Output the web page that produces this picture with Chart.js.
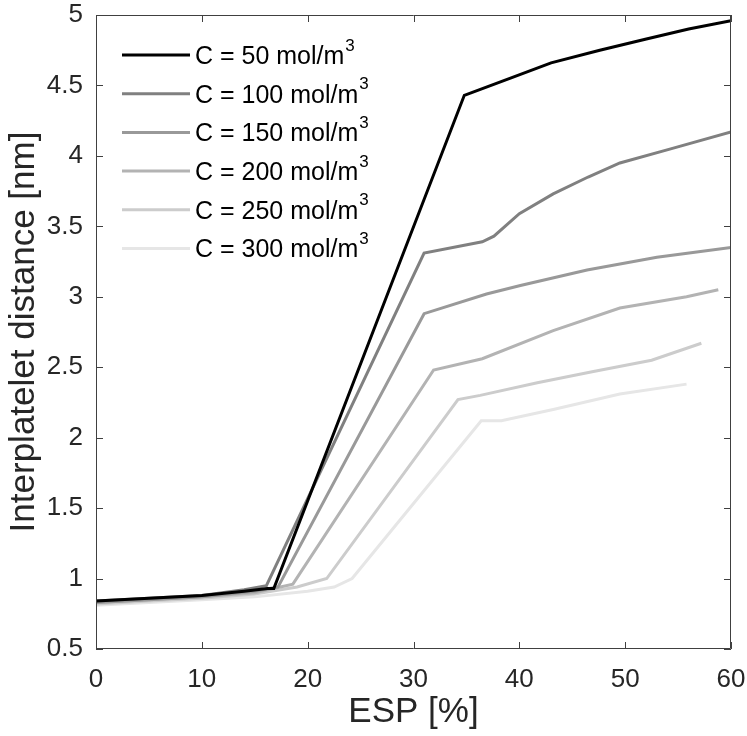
<!DOCTYPE html>
<html>
<head>
<meta charset="utf-8">
<script src="https://cdn.jsdelivr.net/npm/chart.js@4"></script>
<style>
  html, body { margin: 0; padding: 0; background: #fff; }
  #box { width: 747px; height: 736px; }
</style>
</head>
<body>
<div id="box"><canvas id="myChart"></canvas></div>
<script>
// values
var esp50  = [0, 5, 10, 14, 16.2, 16.8, 34.8, 39.1, 43, 47.6, 52, 56, 60]
var dist50 = [0.84, 0.86, 0.88, 0.91, 0.93, 0.93, 4.43, 4.55, 4.66, 4.75, 4.83, 4.90, 4.96]

var esp100  = [0, 5, 10, 14, 16.1, 31.0, 36.5, 37.6, 40, 43.2, 46.5, 49.5, 54.3, 60]
var dist100 = [0.84, 0.86, 0.88, 0.92, 0.95, 3.31, 3.39, 3.43, 3.59, 3.73, 3.85, 3.95, 4.05, 4.17]

var esp150  = [0, 5, 10, 15, 17.2, 31.0, 36.9, 40.1, 46.4, 53, 60]
var dist150 = [0.83, 0.85, 0.87, 0.91, 0.94, 2.88, 3.02, 3.08, 3.19, 3.28, 3.35]

var esp200  = [0, 5, 10, 15, 18.6, 31.9, 36.5, 43.2, 49.5, 55.8, 58.8]
var dist200 = [0.83, 0.85, 0.87, 0.90, 0.96, 2.48, 2.56, 2.76, 2.92, 3.00, 3.05]

var esp250  = [0, 5, 10, 15, 19, 21.8, 34.2, 36.3, 41.7, 47, 52.5, 57.2]
var dist250 = [0.82, 0.84, 0.86, 0.89, 0.94, 1.0, 2.27, 2.30, 2.39, 2.47, 2.55, 2.67]

var esp300  = [0, 5, 10, 15, 20, 22.5, 24.2, 36.4, 38.3, 43.2, 49.5, 55.8]
var dist300 = [0.81, 0.83, 0.85, 0.87, 0.91, 0.94, 1.0, 2.12, 2.12, 2.20, 2.31, 2.38]

var concentrations = [50, 100, 150, 200, 250, 300]
var xTicks = [0, 10, 20, 30, 40, 50, 60]
var yTicks = [0.5, 1, 1.5, 2, 2.5, 3, 3.5, 4, 4.5, 5]

var FONT = "'Liberation Sans', Arial, Helvetica, sans-serif"
var TXT = '#262626'

function pts(xs, ys) {
    return xs.map((x, i) => ({ x: x, y: ys[i] }))
}

var seriesX = [esp50, esp100, esp150, esp200, esp250, esp300]
var seriesY = [dist50, dist100, dist150, dist200, dist250, dist300]
var shades = ['#000000', '#808080', '#999999', '#b3b3b3', '#cccccc', '#e6e6e6']

var datasets = concentrations.map((c, i) => ({
    label: 'C = ' + c + ' mol/m³',
    conc: c,
    data: pts(seriesX[i], seriesY[i]),
    borderColor: shades[i],
    borderWidth: 3,
    showLine: true,
    pointRadius: 0,
    tension: 0
}))

// box, inward ticks and legend drawn like matlab
var matlabAxes = {
    id: 'matlabAxes',
    afterDatasetsDraw(chart) {
        var c = chart.ctx, a = chart.chartArea
        var sx = chart.scales.x, sy = chart.scales.y
        c.save()
        c.strokeStyle = '#404040'
        c.lineWidth = 1
        c.beginPath()
        c.rect(a.left + 0.5, a.top + 0.5, a.right - a.left - 1, a.bottom - a.top - 1)
        xTicks.forEach(t => {
            var px = Math.round(sx.getPixelForValue(t)) + 0.5
            c.moveTo(px, a.bottom); c.lineTo(px, a.bottom - 7)
            c.moveTo(px, a.top); c.lineTo(px, a.top + 7)
        })
        yTicks.forEach(t => {
            var py = Math.round(sy.getPixelForValue(t)) + 0.5
            c.moveTo(a.left, py); c.lineTo(a.left + 7, py)
            c.moveTo(a.right, py); c.lineTo(a.right - 7, py)
        })
        c.stroke()

        // legend
        var x0 = 122, y0 = 55, step = 38.7
        chart.data.datasets.forEach((ds, i) => {
            var y = y0 + i * step
            c.strokeStyle = ds.borderColor
            c.lineWidth = 3
            c.beginPath()
            c.moveTo(x0, y); c.lineTo(x0 + 68, y)
            c.stroke()
            c.fillStyle = '#000'
            c.textBaseline = 'middle'
            c.font = '25px ' + FONT
            var s = 'C = ' + ds.conc + ' mol/m'
            c.fillText(s, x0 + 73, y + 2)
            var w = c.measureText(s).width
            c.font = '17px ' + FONT
            c.fillText('3', x0 + 73 + w + 1, y - 9)
        })
        c.restore()
    }
}

Chart.defaults.font.family = FONT
Chart.defaults.color = TXT

const ctx = document.getElementById('myChart')
new Chart(ctx, {
    type: 'scatter',
    data: { datasets: datasets },
    plugins: [matlabAxes],
    options: {
        responsive: true,
        maintainAspectRatio: false,
        animation: false,
        layout: { padding: { top: 15, right: 16, left: 0, bottom: 0 } },
        plugins: {
            legend: { display: false },
            tooltip: { enabled: false }
        },
        scales: {
            x: {
                min: 0, max: 60,
                afterBuildTicks: s => { s.ticks = xTicks.map(v => ({ value: v })) },
                afterFit: s => { s.height = 87; s.paddingLeft = 0; s.paddingRight = 0 },
                grid: { display: false, drawTicks: false },
                border: { display: false },
                ticks: { padding: 15, font: { size: 26 }, color: TXT, maxRotation: 0 },
                title: { display: true, text: 'ESP [%]', font: { size: 35 }, color: TXT, padding: { top: 0, bottom: 3 } }
            },
            y: {
                min: 0.5, max: 5,
                afterBuildTicks: s => { s.ticks = yTicks.map(v => ({ value: v })) },
                afterFit: s => { s.width = 96; s.paddingTop = 0; s.paddingBottom = 0 },
                grid: { display: false, drawTicks: false },
                border: { display: false },
                ticks: { padding: 13, font: { size: 26 }, color: TXT, callback: v => String(v) },
                title: { display: true, text: 'Interplatelet distance [nm]', font: { size: 35 }, color: TXT, padding: { top: 3, bottom: 0 } }
            }
        }
    }
})
</script>
</body>
</html>
